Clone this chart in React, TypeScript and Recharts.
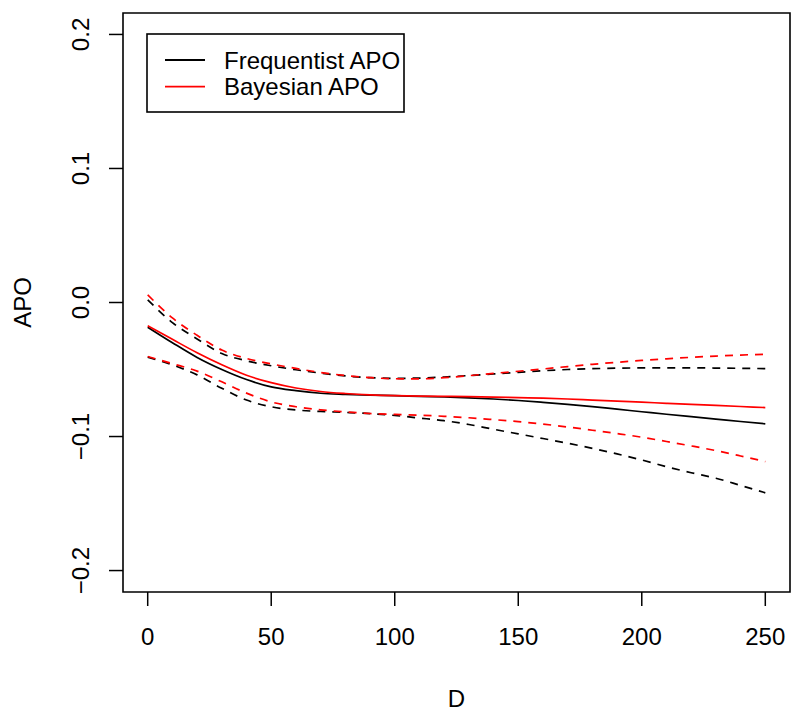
import React from 'react';
import { LineChart, Line, XAxis, YAxis, ReferenceArea } from 'recharts';

const dValues = [0, 10, 20, 30, 40, 50, 60, 70, 80, 90, 100, 110, 120, 130, 140, 150, 160, 170, 180, 190, 200, 210, 220, 230, 240, 250];

const freqAPO = [-0.0184, -0.030, -0.041, -0.050, -0.0575, -0.063, -0.0658, -0.0677, -0.0685, -0.0691, -0.0695, -0.0700, -0.0705, -0.0712, -0.0720, -0.0731, -0.0745, -0.0760, -0.0777, -0.0796, -0.0815, -0.0834, -0.0852, -0.0870, -0.0888, -0.0905];
const freqUpper = [0.002, -0.0150, -0.0272, -0.0380, -0.0435, -0.0472, -0.0502, -0.0527, -0.0548, -0.0561, -0.0566, -0.0564, -0.0556, -0.0545, -0.0533, -0.0521, -0.0509, -0.0500, -0.0494, -0.0490, -0.0488, -0.0488, -0.0488, -0.0489, -0.0491, -0.0493];
const freqLower = [-0.0408, -0.0465, -0.0540, -0.0640, -0.0728, -0.0778, -0.0802, -0.0813, -0.0820, -0.0829, -0.0843, -0.0862, -0.0882, -0.0910, -0.0946, -0.0980, -0.1015, -0.1050, -0.1088, -0.1130, -0.1175, -0.1225, -0.1270, -0.1311, -0.1365, -0.1420];

const bayesAPO = [-0.0174, -0.0275, -0.0375, -0.0465, -0.0543, -0.0598, -0.0638, -0.0664, -0.0679, -0.0689, -0.0695, -0.0698, -0.0700, -0.0703, -0.0706, -0.0710, -0.0714, -0.0720, -0.0728, -0.0736, -0.0744, -0.0752, -0.0760, -0.0768, -0.0776, -0.0784];
const bayesUpper = [0.0057, -0.0115, -0.0245, -0.0355, -0.0418, -0.0458, -0.0492, -0.0522, -0.0545, -0.0560, -0.0569, -0.0570, -0.0561, -0.0546, -0.0529, -0.0513, -0.0496, -0.0478, -0.0461, -0.0446, -0.0432, -0.0420, -0.0409, -0.0400, -0.0392, -0.0386];
const bayesLower = [-0.0403, -0.0456, -0.0512, -0.0592, -0.0676, -0.0742, -0.0778, -0.0801, -0.0816, -0.0828, -0.0835, -0.0841, -0.0849, -0.0860, -0.0874, -0.0889, -0.0907, -0.0929, -0.0953, -0.0978, -0.1005, -0.1037, -0.1070, -0.1105, -0.1145, -0.1187];

const xTicks = [0, 50, 100, 150, 200, 250];
const yTicks = [-0.2, -0.1, 0.0, 0.1, 0.2];
const legendLabels = ['Frequentist APO', 'Bayesian APO'];
const legendColors = ['#000000', '#ff0000'];

const data = dValues.map((d, i) => ({
  D: d,
  freqAPO: freqAPO[i],
  freqUpper: freqUpper[i],
  freqLower: freqLower[i],
  bayesAPO: bayesAPO[i],
  bayesUpper: bayesUpper[i],
  bayesLower: bayesLower[i],
}));

const FONT = '"Liberation Sans", Arial, Helvetica, sans-serif';
const FS = 24;

const fmtY = (v: number) => {
  const s = Math.abs(v).toFixed(1);
  return v < 0 ? '\u2212' + s : s;
};

const XTick = (props: any) => {
  const { x, y, payload } = props;
  return (
    <text x={x} y={y} dy={36.5} textAnchor="middle" fontFamily={FONT} fontSize={FS} fill="#000">
      {String(payload.value)}
    </text>
  );
};

const YTick = (props: any) => {
  const { x, y, payload } = props;
  const bx = x - 18;
  return (
    <text x={bx} y={y} transform={`rotate(-90, ${bx}, ${y})`} textAnchor="middle" fontFamily={FONT} fontSize={FS} fill="#000">
      {fmtY(payload.value)}
    </text>
  );
};

const LegendBox = () => (
  <svg width={260} height={81} style={{ display: 'block' }}>
    <rect x={1} y={1} width={257} height={78} fill="#fff" stroke="#000" strokeWidth={1.6} />
    {legendLabels.map((lab, i) => (
      <g key={lab}>
        <line x1={19} x2={59} y1={27 + i * 26.7} y2={27 + i * 26.7} stroke={legendColors[i]} strokeWidth={1.8} />
        <text x={78} y={27 + i * 26.7} dy={8.6} fontFamily={FONT} fontSize={FS} fill="#000">{lab}</text>
      </g>
    ))}
  </svg>
);

export default function App() {
  return (
    <div style={{ position: 'absolute', left: 0, top: 0, width: 791, height: 713, background: '#fff' }}>
      <LineChart width={791} height={713} data={data} margin={{ top: 13, right: 1, bottom: 120, left: 122 }}>
        <XAxis
          dataKey="D"
          type="number"
          domain={[-10, 260]}
          allowDataOverflow
          ticks={xTicks}
          height={1}
          axisLine={false}
          tickSize={14}
          tickLine={{ stroke: '#000', strokeWidth: 1.5 }}
          tick={<XTick />}
          interval={0}
          label={{
            content: (p: any) => {
              const vb = p.viewBox || {};
              return (
                <text x={vb.x + vb.width / 2} y={vb.y + 115} textAnchor="middle" fontFamily={FONT} fontSize={FS} fill="#000">D</text>
              );
            },
          }}
        />
        <YAxis
          type="number"
          domain={[-0.216, 0.216]}
          allowDataOverflow
          ticks={yTicks}
          width={1}
          axisLine={false}
          tickSize={14}
          tickLine={{ stroke: '#000', strokeWidth: 1.5 }}
          tick={<YTick />}
          interval={0}
          label={{
            content: (p: any) => {
              const vb = p.viewBox || {};
              const cx = 31;
              const cy = vb.y + vb.height / 2;
              return (
                <text x={cx} y={cy} transform={`rotate(-90, ${cx}, ${cy})`} textAnchor="middle" fontFamily={FONT} fontSize={FS} fill="#000">APO</text>
              );
            },
          }}
        />
        <ReferenceArea x1={-10} x2={260} y1={-0.216} y2={0.216} fill="none" fillOpacity={0} stroke="#000" strokeWidth={1.6} ifOverflow="visible" />
        <Line type="monotone" dataKey="freqUpper" stroke="#000" strokeWidth={1.7} strokeDasharray="8 7" dot={false} isAnimationActive={false} />
        <Line type="monotone" dataKey="freqLower" stroke="#000" strokeWidth={1.7} strokeDasharray="8 7" dot={false} isAnimationActive={false} />
        <Line type="monotone" dataKey="bayesUpper" stroke="#ff0000" strokeWidth={1.7} strokeDasharray="8 7" dot={false} isAnimationActive={false} />
        <Line type="monotone" dataKey="bayesLower" stroke="#ff0000" strokeWidth={1.7} strokeDasharray="8 7" dot={false} isAnimationActive={false} />
        <Line type="monotone" dataKey="freqAPO" stroke="#000" strokeWidth={1.7} dot={false} isAnimationActive={false} />
        <Line type="monotone" dataKey="bayesAPO" stroke="#ff0000" strokeWidth={1.7} dot={false} isAnimationActive={false} />
      </LineChart>
      <div style={{ position: 'absolute', left: 146, top: 33 }}>
        <LegendBox />
      </div>
    </div>
  );
}
